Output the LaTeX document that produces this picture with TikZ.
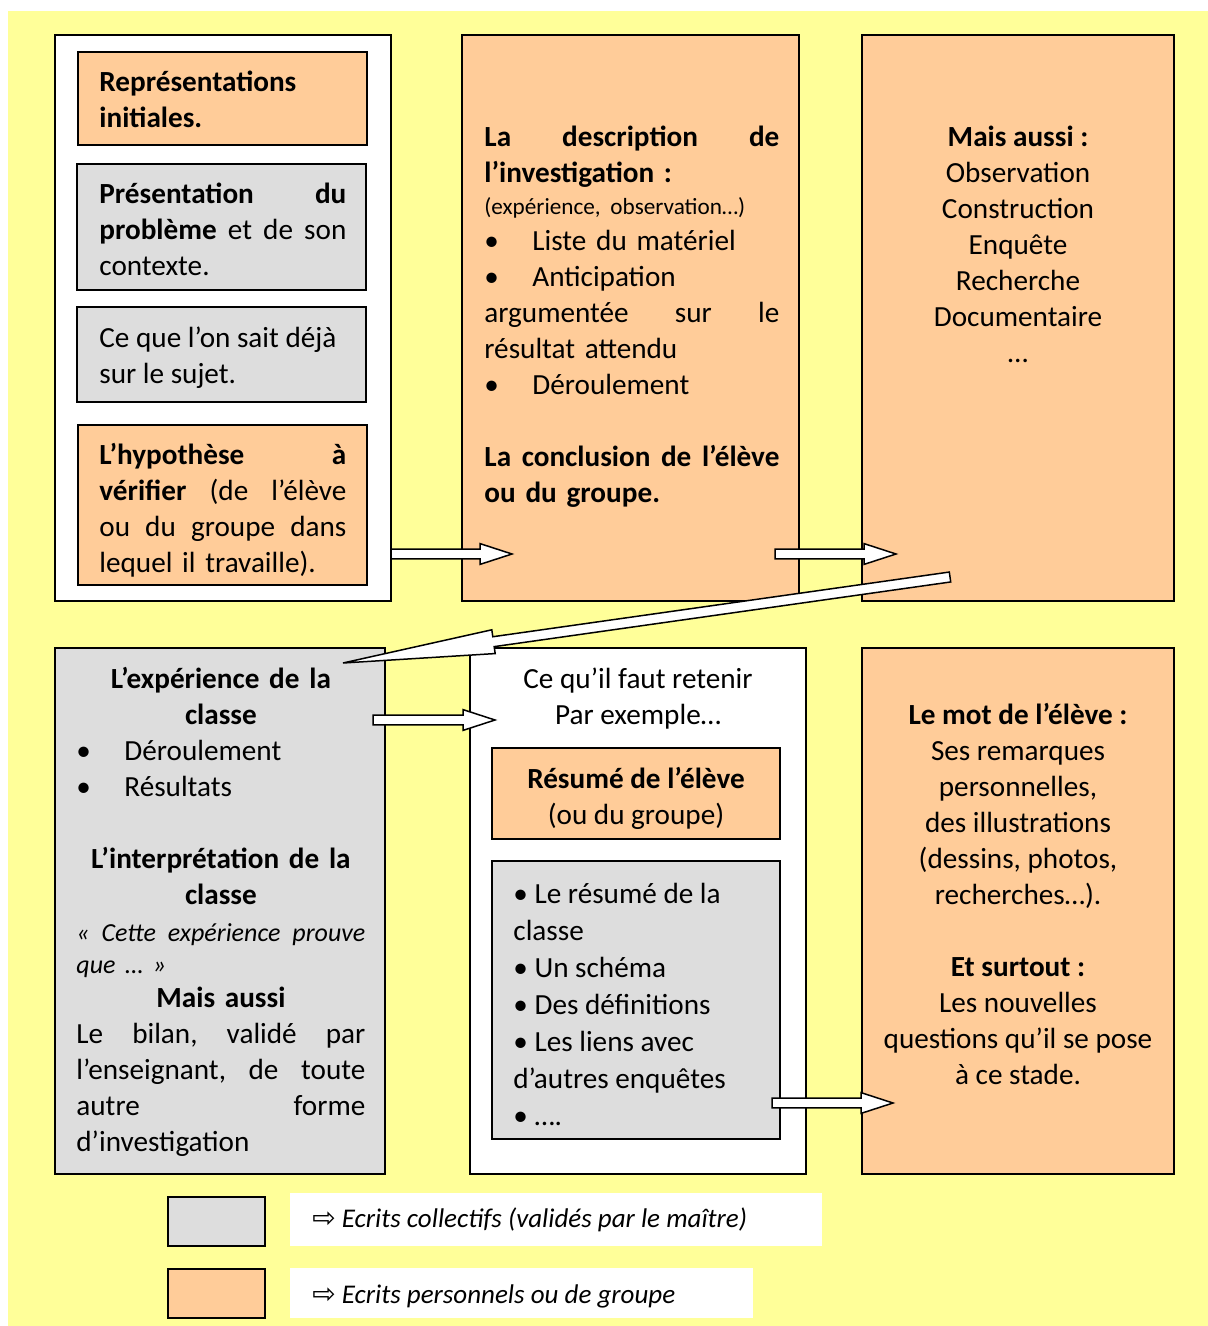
\documentclass[tikz,border=0pt]{standalone}
\usepackage{fontspec}
\setmainfont{Carlito}
\newfontfamily\symfont{DejaVu Sans}
\usetikzlibrary{calc,fit}
\frenchspacing
\definecolor{bgyellow}{HTML}{FFFF99}
\definecolor{peach}{HTML}{FFCC99}
\definecolor{lgray}{HTML}{DDDDDD}
\newcommand\bodyfont{\fontsize{14.6}{18}\selectfont}
\newcommand\smallfnt{\fontsize{11.6}{13}\selectfont}
\newcommand\itfnt{\fontsize{13}{16}\selectfont\itshape}
\newcommand\legfnt{\fontsize{13.5}{16}\selectfont\itshape}
\tikzset{
  frame/.style={draw=black, line width=1pt, inner sep=0pt},
  whitebox/.style={frame, fill=white},
  peachbox/.style={frame, fill=peach},
  graybox/.style={frame, fill=lgray},
  plainwhite/.style={fill=white, inner sep=0pt},
  txt/.style={inner sep=0pt, anchor=north west, align=left, font=\bodyfont},
  ctxt/.style={inner sep=0pt, anchor=north, align=center, font=\bodyfont},
  legtxt/.style={inner sep=0pt, anchor=west, font=\legfnt},
  barrow/.style={draw=black, fill=white, line width=0.75pt, line join=miter},
}
\newcommand\mybox[6]{\node[#6, fit={(#2,#3)(#4,#5)}] (#1) {};}
% #1 tail, #2 tip, #3 half shaft, #4 half head, #5 head length
\newcommand\blockarrow[5]{%
  \coordinate (ba-h) at ($(#2)!#5!(#1)$);
  \draw[barrow] ($(#1)!#3!90:(#2)$) -- ($(ba-h)!#3!90:(#2)$) -- ($(ba-h)!#4!90:(#2)$)
    -- (#2) -- ($(ba-h)!#4!-90:(#2)$) -- ($(ba-h)!#3!-90:(#2)$) -- ($(#1)!#3!-90:(#2)$) -- cycle;}
\begin{document}
\begin{tikzpicture}[x=0.5pt,y=-0.5pt]
\useasboundingbox (0,0) rectangle (1208,1326);
\fill[white] (0,0) rectangle (1208,1326);
\fill[bgyellow] (8,11) rectangle (1208,1326);

% ---------- top row ----------
\mybox{boxA}{55}{35}{391}{601}{whitebox}
\mybox{repr}{78}{52}{367}{145}{peachbox}
\mybox{pres}{77}{164}{366}{290}{graybox}
\mybox{sait}{77}{307}{366}{402}{graybox}
\mybox{hyp}{78}{425}{367}{585}{peachbox}
\mybox{boxB}{462}{35}{799}{601}{peachbox}
\mybox{boxC}{862}{35}{1174}{601}{peachbox}

\node[txt, text width=123.5pt] (treprs) at (99,66)
  {\strut\textbf{Représentations}\\\textbf{initiales.}};
\node[txt, text width=123.5pt] (tpres) at (99,178)
  {\strut\textbf{Présentation}\hfill\textbf{du}\\\textbf{problème}\hfill et\hfill de\hfill son\\contexte.};
\node[txt] (tsait) at (99,322)
  {\strut Ce que l’on sait déjà\\sur le sujet.};
\node[txt, text width=123.5pt] (thyp) at (99,439)
  {\strut\textbf{L’hypothèse}\hfill\textbf{à}\\\textbf{vérifier}\hfill(de\hfill l’élève\\ou\hfill du\hfill groupe\hfill dans\\lequel il travaille).};

\node[txt, text width=147.5pt] (tdesc) at (484,121)
  {\strut\textbf{La}\hfill\textbf{description}\hfill\textbf{de}\\
   \textbf{l’investigation :}\\[-2pt]
   {\smallfnt (expérience, observation…)}\\
   \makebox[24pt][l]{•}Liste du matériel\\
   \makebox[24pt][l]{•}Anticipation\\
   argumentée\hfill sur\hfill le\\
   résultat attendu\\
   \makebox[24pt][l]{•}Déroulement\\
   \mbox{}\\
   \textbf{La}\hfill\textbf{conclusion}\hfill\textbf{de}\hfill\textbf{l’élève}\\
   \textbf{ou du groupe.}};

\node[ctxt] (tmais) at (1018,121)
  {\strut\textbf{Mais aussi :}\\Observation\\Construction\\Enquête\\Recherche\\Documentaire\\…};

% ---------- bottom row ----------
\mybox{boxD}{55}{648}{385}{1174}{graybox}
\mybox{boxE}{470}{648}{806}{1174}{whitebox}
\mybox{resume}{492}{748}{780}{839}{peachbox}
\mybox{liste}{492}{861}{780}{1139}{graybox}
\mybox{boxF}{862}{648}{1174}{1174}{peachbox}

\node[txt, text width=144.5pt] (texp) at (76,663)
  {\strut\makebox[\hsize]{\textbf{L’expérience de la}}\\
   \makebox[\hsize]{\textbf{classe}}\\
   \makebox[24pt][l]{•}Déroulement\\
   \makebox[24pt][l]{•}Résultats\\
   \mbox{}\\
   \makebox[\hsize]{\textbf{L’interprétation de la}}\\
   \makebox[\hsize]{\textbf{classe}}};
\node[txt, text width=144.5pt] (tinterp) at (76,916)
  {\strut{\itfnt «\hfill Cette\hfill expérience\hfill prouve}\\[-2pt]
   {\itfnt que … »}\\[-1pt]
   \makebox[\hsize]{\textbf{Mais aussi}}\\
   Le\hfill bilan,\hfill validé\hfill par\\
   l’enseignant,\hfill de\hfill toute\\
   autre\hfill forme\\
   d’investigation};

\node[ctxt] (tretenir) at (638,663) {\strut Ce qu’il faut retenir\\Par exemple…};
\node[ctxt] (tresume) at (636,763) {\strut\textbf{Résumé de l’élève}\\(ou du groupe)};
\node[txt, font=\fontsize{14.6}{18.5}\selectfont] (tliste) at (513,877)
  {\strut• Le résumé de la\\classe\\• Un schéma\\• Des définitions\\• Les liens avec\\d’autres enquêtes\\• ….};

\node[ctxt] (tmot) at (1018,699)
  {\strut\textbf{Le mot de l’élève :}\\Ses remarques\\personnelles,\\des illustrations\\(dessins, photos,\\recherches…).\\\mbox{}\\\textbf{Et surtout :}\\Les nouvelles\\questions qu’il se pose\\à ce stade.};

% ---------- legend ----------
\mybox{leggray}{168}{1197}{265}{1246}{graybox}
\mybox{legpeach}{168}{1269}{265}{1318}{peachbox}
\node[plainwhite, fit={(290,1193)(822,1246)}] (legw1) {};
\node[plainwhite, fit={(290,1268)(753,1318)}] (legw2) {};
\node[legtxt] (legt1) at (312,1220) {{\symfont\fontsize{14}{16}\selectfont\upshape ⇨}\hspace{3pt}Ecrits collectifs (validés par le maître)};
\node[legtxt] (legt2) at (312,1296) {{\symfont\fontsize{14}{16}\selectfont\upshape ⇨}\hspace{3pt}Ecrits personnels ou de groupe};

% ---------- block arrows ----------
\coordinate (a1t) at (391,554);  \coordinate (a1h) at (512,554);
\coordinate (a2t) at (775,554);  \coordinate (a2h) at (896,554);
\coordinate (a3t) at (950,577);  \coordinate (a3h) at (343,663);
\coordinate (a4t) at (373,720);  \coordinate (a4h) at (495,720);
\coordinate (a5t) at (772,1103); \coordinate (a5h) at (893,1103);
\blockarrow{a1t}{a1h}{2.4pt}{5.2pt}{16pt}
\blockarrow{a2t}{a2h}{2.4pt}{5.2pt}{16pt}
\blockarrow{a3t}{a3h}{2.5pt}{6pt}{76pt}
\blockarrow{a4t}{a4h}{2.4pt}{5.2pt}{16pt}
\blockarrow{a5t}{a5h}{2.4pt}{5.2pt}{16pt}
\end{tikzpicture}
\end{document}
